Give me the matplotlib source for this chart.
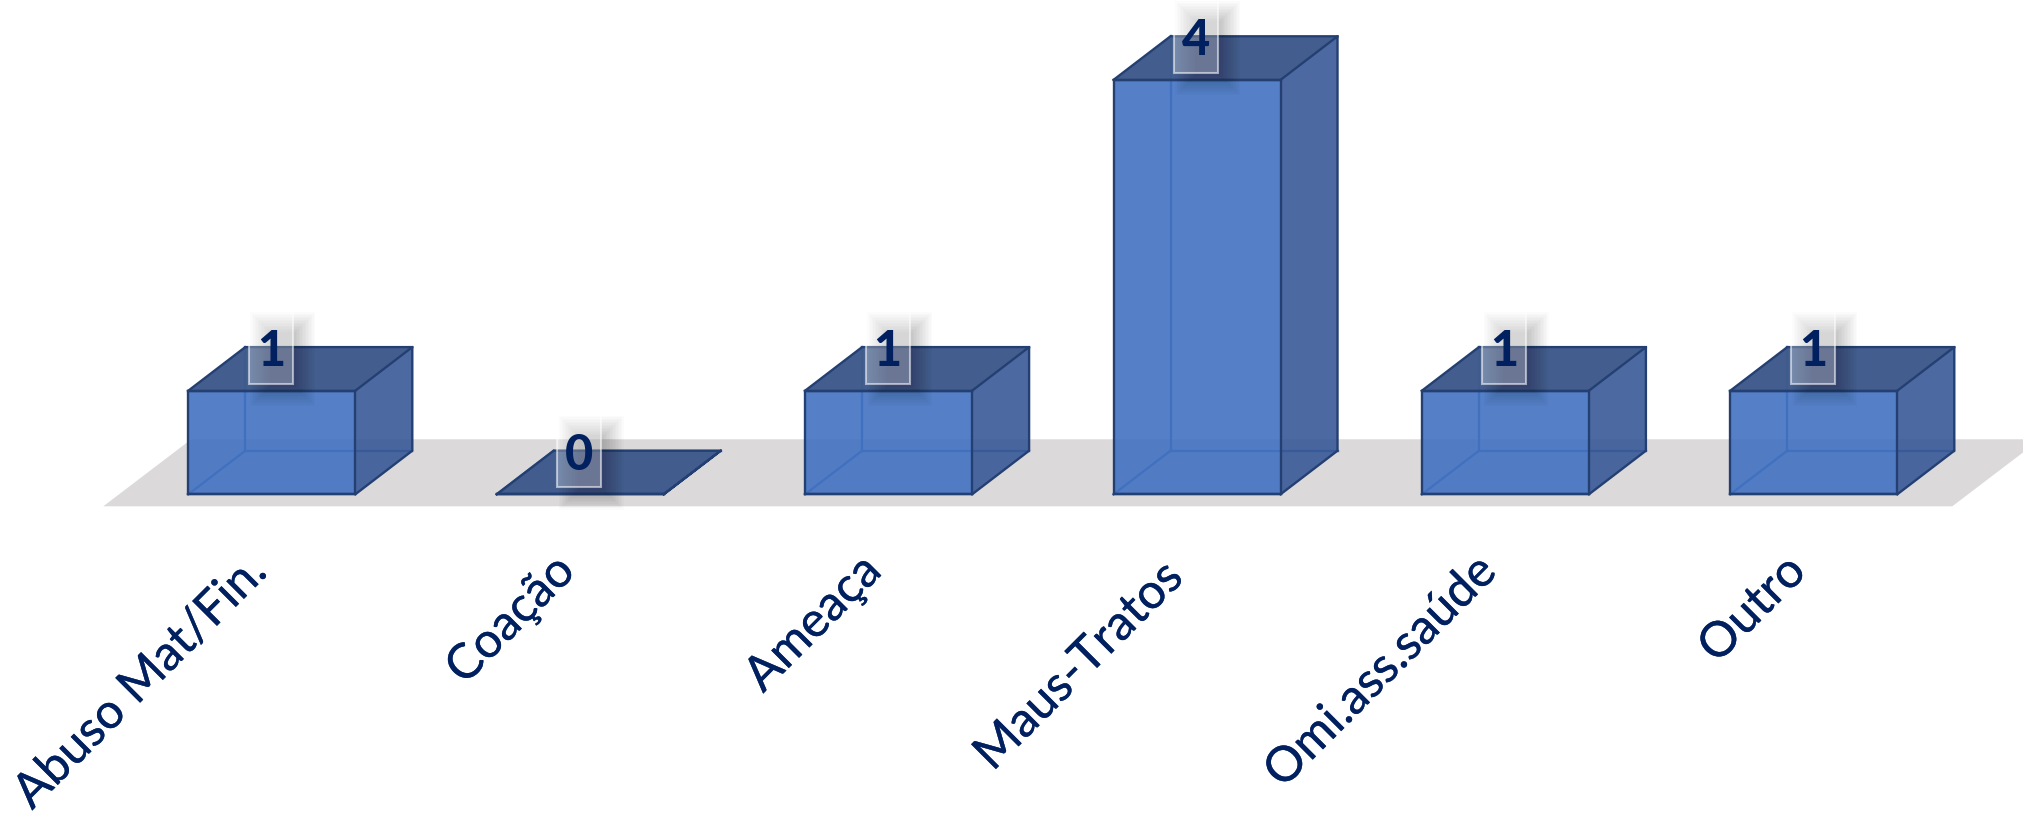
import matplotlib
matplotlib.use("Agg")
import matplotlib.pyplot as plt
import matplotlib.patheffects as pe
from matplotlib.patches import Polygon, Rectangle

categories = ["Abuso Mat/Fin.", "Coação", "Ameaça", "Maus-Tratos", "Omi.ass.saúde", "Outro"]
values = [1, 0, 1, 4, 1, 1]
label_nudge_x = [0, 0, -2, -9, -4, -3]
label_nudge_y = [0, 0, 0, 6, 0, 0]

W, H = 2023, 814
STEP_PX, UNIT_PX = 308.4, 103.6
X0_PX, BASE_PX = 271.8, 494.3

fig = plt.figure(figsize=(W / 100, H / 100), dpi=100)
ax = fig.add_axes([0, 0, 1, 1])
ax.set_xlim(-X0_PX / STEP_PX, (W - X0_PX) / STEP_PX)
ax.set_ylim(-(H - BASE_PX) / UNIT_PX, BASE_PX / UNIT_PX)
ax.axis("off")

px = 1 / STEP_PX
py = 1 / UNIT_PX
half = 83.5 * px
dx, dy = 57 * px, 43.6 * py

FRONT = "#4272C2"
SIDE = "#385998"
TOP = "#3F5B8C"
EDGE = "#243F72"
INNER = "#3B66A8"
NAVY = "#002060"

# Floor
n = len(categories)
fx0 = -half - 85 * px
fx1 = (n - 1) + half + 55 * px
fy0, fy1 = -12 * py, 55 * py
floor = [(fx0, fy0), (fx1, fy0), (fx1 + 88 * px, fy1), (fx0 + 88 * px, fy1)]
ax.add_patch(Polygon(floor, closed=True, fc="#DBD9DA", ec="none", zorder=1))

for i, v in enumerate(values):
    L, R = i - half, i + half
    # hidden edges
    ax.plot([L, L + dx], [0, dy], color=INNER, lw=1.7, zorder=2)
    ax.plot([L + dx, R + dx], [dy, dy], color=INNER, lw=1.7, zorder=2)
    ax.plot([L + dx, L + dx], [dy, v + dy], color=INNER, lw=1.7, zorder=2)
    # side
    ax.add_patch(Polygon([(R, 0), (R + dx, dy), (R + dx, v + dy), (R, v)], closed=True,
                         fc=SIDE, alpha=0.9, ec="none", zorder=3))
    # top
    ax.add_patch(Polygon([(L, v), (R, v), (R + dx, v + dy), (L + dx, v + dy)], closed=True,
                         fc=TOP, alpha=0.98, ec="none", zorder=3))
    # outer edges of depth faces
    ax.plot([R, R + dx, R + dx, R], [0, dy, v + dy, v], color=EDGE, lw=1.7, zorder=5)
    ax.plot([L, L + dx, R + dx], [v, v + dy, v + dy], color=EDGE, lw=1.7, zorder=5)

# Front faces
ax.bar(range(n), values, width=2 * half, color=FRONT, alpha=0.9, zorder=4)
ax.bar(range(n), values, width=2 * half, fc="none", ec=EDGE, lw=1.7, zorder=5)
for i, v in enumerate(values):
    ax.plot([i - half, i + half], [v, v], color=EDGE, lw=1.7, zorder=5)
    ax.plot([i - half, i + half], [0, 0], color=EDGE, lw=1.7, zorder=5)

# Value badges
box_w, box_h = 44 * px, 73 * py
for i, v in enumerate(values):
    bx = i - box_w / 2 - 1 * px
    by = v + 7 * py
    # soft shadow
    steps = 14
    for k in range(steps):
        ins = (k - steps / 2) * 1.5
        ax.add_patch(Rectangle((bx + (12 + ins) * px, by + (-12 + ins) * py),
                               box_w - 2 * ins * px, box_h - 2 * ins * py,
                               fc="black", ec="none", alpha=0.016, zorder=6))
    ax.add_patch(Rectangle((bx, by), box_w, box_h, fc="white", alpha=0.28, ec="none", zorder=7))
    ax.add_patch(Rectangle((bx, by), box_w, box_h, fc="none", ec="white", alpha=0.55, lw=1.5, zorder=7))
    ax.text(i - 1 * px, by + 36 * py, str(v), ha="center", va="center_baseline", color=NAVY,
            family="Lato", fontweight="black", fontsize=35, zorder=8)

# Category labels
for i, lab in enumerate(categories):
    ax.text(i + (label_nudge_x[i] - 13) * px, (BASE_PX - 564 - label_nudge_y[i]) * py, lab,
            rotation=45, rotation_mode="anchor",
            ha="right", va="center", color=NAVY, family="Lato", fontsize=35, zorder=8,
            path_effects=[pe.withStroke(linewidth=0.25, foreground=NAVY)])

fig.savefig("out.png", dpi=100, facecolor="white")
